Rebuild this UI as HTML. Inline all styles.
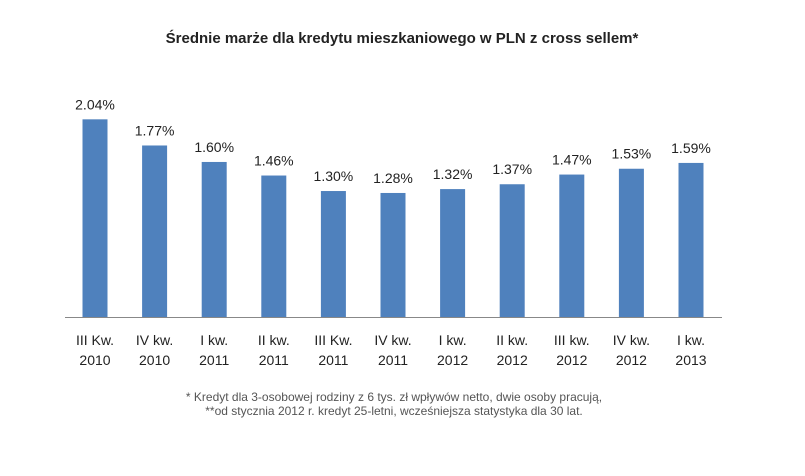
<!DOCTYPE html>
<html><head><meta charset="utf-8"><style>
body{margin:0;background:#fff;width:805px;height:471px;overflow:hidden;font-family:"Liberation Sans",sans-serif}
</style></head><body>
<svg width="805" height="471">
<text x="402" y="43" text-anchor="middle" font-size="15" font-weight="bold" fill="#222">Średnie marże dla kredytu mieszkaniowego w PLN z cross sellem*</text>
<g id="bars"></g>
<line x1="65" y1="317.5" x2="722" y2="317.5" stroke="#888" stroke-width="1"/>
<text x="394" y="401" text-anchor="middle" font-size="12" fill="#555">* Kredyt dla 3-osobowej rodziny z 6 tys. zł wpływów netto, dwie osoby pracują,</text>
<text x="394" y="415" text-anchor="middle" font-size="12" fill="#555">**od stycznia 2012 r. kredyt 25-letni, wcześniejsza statystyka dla 30 lat.</text>
</svg>
<script>
const categories1=["III Kw.","IV kw.","I kw.","II kw.","III Kw.","IV kw.","I kw.","II kw.","III kw.","IV kw.","I kw."];
const categories2=["2010","2010","2011","2011","2011","2011","2012","2012","2012","2012","2013"];
const values=[2.04,1.77,1.60,1.46,1.30,1.28,1.32,1.37,1.47,1.53,1.59];
const NS="http://www.w3.org/2000/svg";
const g=document.getElementById('bars');
const base=317, scale=96.9;
const xc=i=>95+i*59.6;
const y=v=>base-v*scale;
function mk(t,a){const e=document.createElementNS(NS,t);for(const k in a)e.setAttribute(k,a[k]);g.appendChild(e);return e;}
values.forEach((v,i)=>{
 const r=mk('rect',{x:xc(i)-12.5,y:y(v),width:25,height:base-y(v),fill:'#4f81bd'});
 
 
 const t=mk('text',{x:xc(i),y:y(v)-10,'text-anchor':'middle','font-size':'14',fill:'#222'});
 t.textContent=v.toFixed(2)+'%';
 
 
 const c1=mk('text',{x:xc(i),y:345,'text-anchor':'middle','font-size':'14',fill:'#222'});
 c1.textContent=categories1[i];
 
 
 const c2=mk('text',{x:xc(i),y:365,'text-anchor':'middle','font-size':'14',fill:'#222'});
 c2.textContent=categories2[i];
 
 
});
</script>
</body></html>
